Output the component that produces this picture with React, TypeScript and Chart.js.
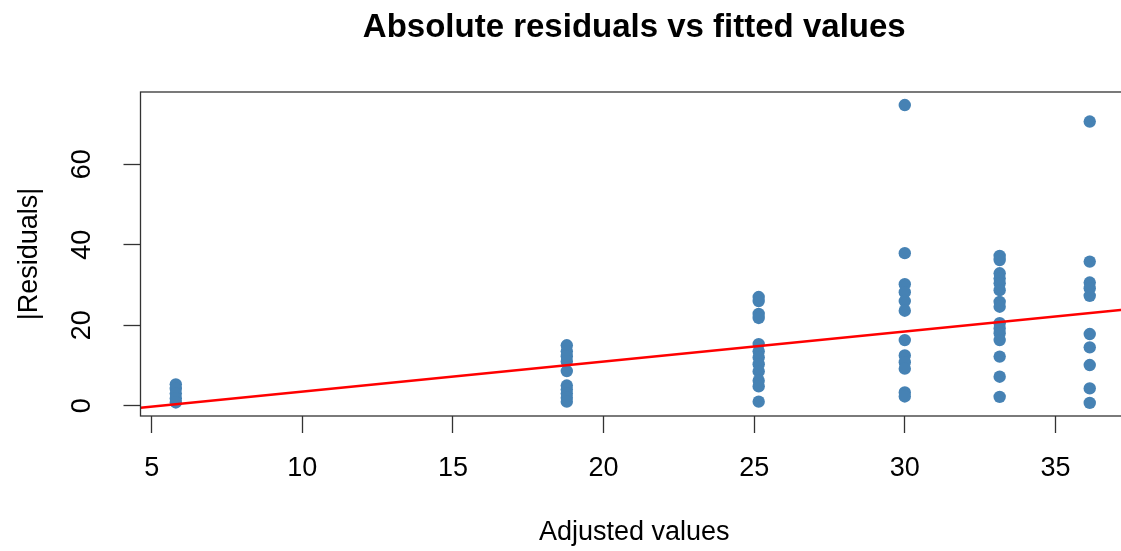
import React, { useEffect, useRef } from "react";
import { Chart, registerables } from "chart.js";

Chart.register(...registerables);

const TITLE = "Absolute residuals vs fitted values";
const X_LABEL = "Adjusted values";
const Y_LABEL = "|Residuals|";

const xTicks = [5, 10, 15, 20, 25, 30, 35];
const yTicks = [0, 20, 40, 60];

const fittedLevels = [5.8, 18.78, 25.15, 30.0, 33.15, 36.14];
const residualsA = [5.3, 4.2, 3.0, 1.8, 0.8];
const residualsB = [15.0, 13.5, 12.3, 11.0, 8.6, 5.0, 4.0, 3.0, 2.0, 1.0];
const residualsC = [27.0, 26.0, 22.8, 21.8, 15.3, 13.5, 12.0, 10.3, 8.5, 6.2, 4.8, 1.0];
const residualsD = [74.7, 37.9, 30.2, 28.2, 26.0, 23.6, 16.3, 12.5, 10.8, 9.2, 3.3, 2.3];
const residualsE = [37.2, 36.2, 32.9, 31.6, 30.4, 28.7, 25.8, 24.6, 20.5, 19.2, 18.0, 16.3, 12.2, 7.2, 2.2];
const residualsF = [70.6, 35.8, 30.6, 29.2, 27.3, 17.8, 14.5, 10.1, 4.3, 0.7];
const residualGroups = [residualsA, residualsB, residualsC, residualsD, residualsE, residualsF];

const lineIntercept = -3.95;
const lineSlope = 0.746;

const xRange = [4.628, 37.41];
const yRange = [-2.56, 77.94];

const FONT = "'Liberation Sans', Arial, Helvetica, sans-serif";

const boxPlugin = {
  id: "rbox",
  afterDatasetsDraw(chart: any) {
    const { ctx, chartArea } = chart;
    const { left, top, right, bottom } = chartArea;
    ctx.save();
    ctx.strokeStyle = "#333";
    ctx.lineWidth = 1.3;
    ctx.strokeRect(left, top, right - left, bottom - top);
    ctx.restore();
  },
};

export default function App() {
  const ref = useRef<HTMLCanvasElement | null>(null);

  useEffect(() => {
    const canvas = ref.current;
    if (!canvas) return;
    const points: { x: number; y: number }[] = [];
    residualGroups.forEach((g, i) => g.forEach((v) => points.push({ x: fittedLevels[i], y: v })));
    const linePts = xRange.map((x) => ({ x, y: lineIntercept + lineSlope * x }));

    const chart = new Chart(canvas, {
      type: "scatter",
      data: {
        datasets: [
          {
            type: "line",
            data: linePts,
            borderColor: "#FF0000",
            borderWidth: 2.5,
            pointRadius: 0,
            fill: false,
            order: 0,
          } as any,
          {
            data: points,
            backgroundColor: "#4682B4",
            borderWidth: 0,
            pointRadius: 6.2,
            order: 1,
          },
        ],
      },
      plugins: [boxPlugin],
      options: {
        responsive: false,
        animation: false,
        events: [],
        layout: { padding: { left: 0, right: 12, top: 0, bottom: 0 } },
        plugins: {
          legend: { display: false },
          tooltip: { enabled: false },
          title: {
            display: true,
            text: TITLE,
            fullSize: false,
            color: "#000",
            font: { family: FONT, size: 33, weight: "bold", lineHeight: 1.2 },
            padding: { top: 8.2, bottom: 44.2 },
          },
        },
        scales: {
          x: {
            type: "linear",
            min: xRange[0],
            max: xRange[1],
            afterBuildTicks: (s: any) => {
              s.ticks = xTicks.map((v) => ({ value: v }));
            },
            afterFit: (s: any) => {
              s.height = 135;
            },
            border: { display: false },
            grid: { drawOnChartArea: false, drawTicks: true, tickLength: 17, tickColor: "#333", tickWidth: 1.3 },
            ticks: {
              color: "#000",
              padding: 19,
              maxRotation: 0,
              minRotation: 0,
              font: { family: FONT, size: 27, lineHeight: 1.2 },
              callback: (v: any) => String(v),
            },
            title: {
              display: true,
              text: X_LABEL,
              color: "#000",
              font: { family: FONT, size: 27, lineHeight: 1.2 },
              padding: { top: 0, bottom: 2 },
            },
          },
          y: {
            type: "linear",
            min: yRange[0],
            max: yRange[1],
            afterBuildTicks: (s: any) => {
              s.ticks = yTicks.map((v) => ({ value: v }));
            },
            afterFit: (s: any) => {
              s.width = 140.5;
            },
            border: { display: false },
            grid: { drawOnChartArea: false, drawTicks: true, tickLength: 17, tickColor: "#333", tickWidth: 1.3 },
            ticks: {
              color: "#000",
              padding: 26,
              minRotation: 90,
              maxRotation: 90,
              crossAlign: "center",
              font: { family: FONT, size: 27, lineHeight: 1.2 },
              callback: (v: any) => String(v),
            },
            title: {
              display: true,
              text: Y_LABEL,
              color: "#000",
              font: { family: FONT, size: 27, lineHeight: 1.2 },
              padding: { top: 13, bottom: 0 },
            },
          },
        },
      } as any,
    });
    return () => chart.destroy();
  }, []);

  return (
    <div style={{ position: "fixed", left: 0, top: 0, width: 1121, height: 551, overflow: "hidden", background: "#fff" }}>
      <canvas ref={ref} width={1140} height={551} style={{ display: "block", width: 1140, height: 551 }} />
    </div>
  );
}
